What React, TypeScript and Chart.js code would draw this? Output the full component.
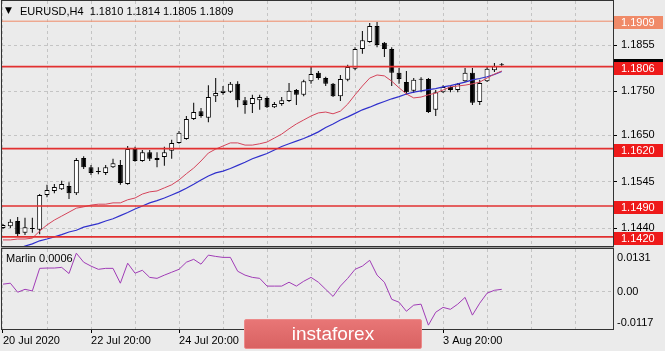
import React, { useEffect, useRef } from "react";
import { Chart, registerables } from "chart.js";

Chart.register(...registerables);

// ---------------- data ----------------
const symbol = "EURUSD";
const timeframe = "H4";

const openP = [
  1.1440, 1.1444, 1.1456, 1.1429, 1.1440, 1.1436, 1.1515, 1.1524, 1.1528, 1.1535,
  1.1519, 1.1599, 1.1578, 1.1569, 1.1565, 1.1578, 1.1583, 1.1540, 1.1619, 1.1592,
  1.1612, 1.1599, 1.1601, 1.1615, 1.1633, 1.1642, 1.1687, 1.1705, 1.1690, 1.1739,
  1.1746, 1.1749, 1.1767, 1.1730, 1.1721, 1.1730, 1.1735, 1.1714, 1.1721, 1.1728,
  1.1753, 1.1742, 1.1773, 1.1792, 1.1780, 1.1767, 1.1739, 1.1776, 1.1801, 1.1846,
  1.1862, 1.1898, 1.1860, 1.1846, 1.1792, 1.1771, 1.1751, 1.1778, 1.1778, 1.1708,
  1.1748, 1.1760, 1.1753, 1.1773, 1.1792, 1.1726, 1.1773, 1.1798, 1.1810,
];
const highP = [
  1.1449, 1.1460, 1.1465, 1.1463, 1.1463, 1.1517, 1.1538, 1.1540, 1.1547, 1.1544,
  1.1599, 1.1603, 1.1583, 1.1578, 1.1583, 1.1597, 1.1594, 1.1626, 1.1624, 1.1617,
  1.1617, 1.1612, 1.1624, 1.1640, 1.1660, 1.1694, 1.1724, 1.1712, 1.1764, 1.1780,
  1.1762, 1.1771, 1.1773, 1.1737, 1.1742, 1.1742, 1.1739, 1.1726, 1.1737, 1.1769,
  1.1755, 1.1776, 1.1805, 1.1796, 1.1783, 1.1769, 1.1787, 1.1810, 1.1850, 1.1887,
  1.1905, 1.1907, 1.1862, 1.1850, 1.1803, 1.1796, 1.1780, 1.1782, 1.1780, 1.1753,
  1.1764, 1.1762, 1.1769, 1.1803, 1.1803, 1.1776, 1.1805, 1.1814, 1.1814,
];
const lowP = [
  1.1438, 1.1440, 1.1422, 1.1424, 1.1429, 1.1426, 1.1510, 1.1519, 1.1526, 1.1506,
  1.1515, 1.1574, 1.1560, 1.1562, 1.1560, 1.1576, 1.1538, 1.1538, 1.1590, 1.1590,
  1.1592, 1.1578, 1.1581, 1.1597, 1.1631, 1.1640, 1.1685, 1.1690, 1.1680, 1.1726,
  1.1742, 1.1746, 1.1714, 1.1699, 1.1701, 1.1708, 1.1712, 1.1712, 1.1717, 1.1726,
  1.1719, 1.1739, 1.1767, 1.1776, 1.1762, 1.1737, 1.1728, 1.1773, 1.1798, 1.1835,
  1.1860, 1.1850, 1.1828, 1.1762, 1.1767, 1.1742, 1.1746, 1.1748, 1.1701, 1.1694,
  1.1746, 1.1748, 1.1748, 1.1771, 1.1719, 1.1719, 1.1771, 1.1794, 1.1805,
];
const closeP = [
  1.1447, 1.1454, 1.1426, 1.1442, 1.1438, 1.1515, 1.1526, 1.1533, 1.1540, 1.1519,
  1.1594, 1.1578, 1.1565, 1.1567, 1.1578, 1.1587, 1.1542, 1.1619, 1.1592, 1.1612,
  1.1597, 1.1594, 1.1612, 1.1633, 1.1656, 1.1687, 1.1703, 1.1694, 1.1737, 1.1746,
  1.1751, 1.1767, 1.1730, 1.1719, 1.1735, 1.1737, 1.1714, 1.1721, 1.1730, 1.1751,
  1.1742, 1.1773, 1.1789, 1.1780, 1.1767, 1.1739, 1.1778, 1.1805, 1.1846, 1.1866,
  1.1898, 1.1855, 1.1846, 1.1792, 1.1778, 1.1748, 1.1776, 1.1776, 1.1703, 1.1748,
  1.1760, 1.1753, 1.1767, 1.1792, 1.1724, 1.1769, 1.1801, 1.1807, 1.1809,
];
const maRed = [
  1.1413, 1.1413, 1.1415, 1.1415, 1.1417, 1.1433, 1.1447, 1.1458, 1.1467, 1.1476,
  1.1485, 1.1488, 1.1492, 1.1494, 1.1494, 1.1497, 1.1497, 1.1504, 1.1508, 1.1517,
  1.1522, 1.1524, 1.1531, 1.1538, 1.1549, 1.1563, 1.1576, 1.1592, 1.1610, 1.1619,
  1.1626, 1.1633, 1.1633, 1.1628, 1.1628, 1.1631, 1.1635, 1.1644, 1.1653, 1.1665,
  1.1676, 1.1685, 1.1694, 1.1701, 1.1703, 1.1699, 1.1705, 1.1721, 1.1742, 1.1762,
  1.1780, 1.1787, 1.1785, 1.1773, 1.1758, 1.1744, 1.1735, 1.1737, 1.1742, 1.1746,
  1.1753, 1.1760, 1.1762, 1.1764, 1.1767, 1.1771, 1.1780, 1.1789, 1.1796,
];
const maBlue = [
  1.1386, 1.1390, 1.1393, 1.1399, 1.1404, 1.1411, 1.1415, 1.1420, 1.1425, 1.1431,
  1.1435, 1.1442, 1.1446, 1.1450, 1.1456, 1.1461, 1.1468, 1.1475, 1.1483, 1.1490,
  1.1497, 1.1502, 1.1508, 1.1515, 1.1522, 1.1530, 1.1539, 1.1549, 1.1558, 1.1565,
  1.1569, 1.1575, 1.1582, 1.1589, 1.1597, 1.1603, 1.1609, 1.1617, 1.1625, 1.1631,
  1.1637, 1.1643, 1.1650, 1.1658, 1.1668, 1.1676, 1.1685, 1.1692, 1.1700, 1.1708,
  1.1714, 1.1721, 1.1727, 1.1733, 1.1738, 1.1744, 1.1748, 1.1751, 1.1754, 1.1756,
  1.1760, 1.1763, 1.1767, 1.1771, 1.1776, 1.1779, 1.1783, 1.1788, 1.1795,
];
const marlin = [
  0.0022, 0.0025, -0.0003, 0.0006, 0.0001, 0.0071, 0.0072, 0.0072, 0.0074, 0.0055,
  0.0118, 0.0090, 0.0078, 0.0068, 0.0071, 0.0071, 0.0025, 0.0087, 0.0056, 0.0065,
  0.0043, 0.0040, 0.0050, 0.0059, 0.0068, 0.0090, 0.0099, 0.0084, 0.0112, 0.0108,
  0.0105, 0.0105, 0.0062, 0.0050, 0.0043, 0.0040, 0.0016, 0.0016, 0.0016, 0.0028,
  0.0016, 0.0031, 0.0043, 0.0028, 0.0006, -0.0016, 0.0016, 0.0040, 0.0068, 0.0078,
  0.0096, 0.0050, 0.0028, -0.0025, -0.0034, -0.0062, -0.0043, -0.0040, -0.0105, -0.0065,
  -0.0050, -0.0056, -0.0040, -0.0019, -0.0074, -0.0037, -0.0006, 0.0003, 0.0006,
];

const levelValues = [1.1909, 1.1806, 1.1620, 1.1490, 1.1420];
const levelColors = ["#f08a68", "#e23030", "#e23030", "#e23030", "#e23030"];
const levelBoxColors = ["#f08a68", "#ee1a1a", "#ee1a1a", "#ee1a1a", "#ee1a1a"];
const priceTicks = [1.1440, 1.1545, 1.1650, 1.1750, 1.1855];
const subTickValues = [0.0131, 0.0, -0.0117];
const subTickTexts = ["0.0131", "0.00", "-0.0117"];
const gridIdx = [0, 6, 12, 18, 24, 30, 36, 42, 48, 54, 60, 66, 72, 78];
const xLabelIdx = [0, 12, 24, 36, 48, 60];
const xLabelText = ["20 Jul 2020", "22 Jul 20:00", "24 Jul 20:00", "28 Jul 20:00", "30 Jul 20:00", "3 Aug 20:00"];

// ---------------- view ----------------
const W = 665;
const MAIN_H = 247;
const SUB_H = 104;
const BG = "#ebebeb";
const FAMILY = "'Liberation Sans', Arial, sans-serif";
const X_MIN = -0.136;
const X_MAX = 83.17;
const MAIN_MIN = 1.13992;
const MAIN_MAX = 1.19548;
const SUB_MIN = -0.0117;
const SUB_MAX = 0.0131;
const GRID = "#c4c4c4";
const FRAME = "#333333";

export default function App() {
  const mainRef = useRef<HTMLCanvasElement | null>(null);
  const subRef = useRef<HTMLCanvasElement | null>(null);

  useEffect(() => {
    if (!mainRef.current || !subRef.current) return;
    const idx = openP.map((_, i) => i);
    const last = idx.length - 1;
    const bull = idx.map((i) => closeP[i] >= openP[i]);

    const fixWidth = (w: number) => (s: any) => {
      s.width = w;
      s.paddingTop = 0;
      s.paddingBottom = 0;
      s.paddingLeft = 0;
      s.paddingRight = 0;
    };
    const fixHeight = (h: number) => (s: any) => {
      s.height = h;
      s.paddingTop = 0;
      s.paddingBottom = 0;
      s.paddingLeft = 0;
      s.paddingRight = 0;
    };

    const mainPlugin = {
      id: "mainDecor",
      afterDraw(chart: any) {
        const ctx = chart.ctx;
        const ca = chart.chartArea;
        const ys = chart.scales.y;
        ctx.save();
        ctx.strokeStyle = FRAME;
        ctx.lineWidth = 1;
        ctx.strokeRect(ca.left - 0.5, ca.top - 0.5, ca.right - ca.left + 1, ca.bottom - ca.top + 1);
        ctx.fillStyle = "#000";
        ctx.textBaseline = "middle";
        ctx.textAlign = "left";
        ctx.font = `9px 'DejaVu Sans', sans-serif`;
        ctx.fillText("\u25BC", 5, 11);
        ctx.font = `11px ${FAMILY}`;
        const f = (v: number) => v.toFixed(4);
        ctx.fillText(
          `${symbol},${timeframe}  ${f(openP[last])} ${f(highP[last])} ${f(lowP[last])} ${f(closeP[last])}`,
          20,
          11.5
        );
        const boxX = ca.right + 1;
        const boxW = 49;
        const bidY = Math.round(ys.getPixelForValue(closeP[last]));
        ctx.fillStyle = "#000";
        ctx.fillRect(boxX, bidY - 6, boxW, 12);
        ctx.font = `11px ${FAMILY}`;
        levelValues.forEach((v, k) => {
          const y = Math.round(ys.getPixelForValue(v));
          ctx.fillStyle = levelBoxColors[k];
          ctx.fillRect(boxX, y - 5, boxW, 13);
          ctx.fillStyle = "#ffffff";
          ctx.fillText(v.toFixed(4), ca.right + 8, y + 1.5);
        });
        ctx.restore();
      },
    };

    const main = new Chart(mainRef.current, {
      type: "bar",
      data: {
        datasets: [
          ...levelValues.map((v, k) => ({
            type: "line" as const,
            data: [
              { x: X_MIN - 5, y: v },
              { x: X_MAX + 5, y: v },
            ],
            borderColor: levelColors[k],
            borderWidth: k === 0 ? 1 : 1.6,
            pointRadius: 0,
            order: 0,
          })),
          {
            type: "line" as const,
            data: idx.map((i) => ({ x: i, y: maRed[i] })),
            borderColor: "#d4445a",
            borderWidth: 1,
            pointRadius: 0,
            tension: 0,
            order: 1,
          },
          {
            type: "line" as const,
            data: idx.map((i) => ({ x: i, y: maBlue[i] })),
            borderColor: "#3030cc",
            borderWidth: 1.2,
            pointRadius: 0,
            tension: 0,
            order: 1,
          },
          {
            type: "bar" as const,
            data: idx.map((i) => ({ x: i, y: [openP[i], closeP[i]] })),
            backgroundColor: bull.map((b) => (b ? "#ffffff" : "#000000")),
            borderColor: "#000000",
            borderWidth: 1,
            borderSkipped: false,
            barThickness: 5,
            minBarLength: 1,
            grouped: false,
            inflateAmount: 0,
            order: 2,
          },
          {
            type: "bar" as const,
            data: idx.map((i) => ({ x: i, y: [lowP[i], highP[i]] })),
            backgroundColor: "#000000",
            borderWidth: 0,
            barThickness: 1,
            grouped: false,
            inflateAmount: 0,
            order: 3,
          },
        ] as any,
      },
      options: {
        animation: false,
        responsive: false,
        events: [],
        layout: { padding: { left: 2, top: 1, right: 0, bottom: 1 } },
        plugins: { legend: { display: false }, tooltip: { enabled: false } },
        scales: {
          x: {
            type: "linear",
            min: X_MIN,
            max: X_MAX,
            offset: false,
            afterBuildTicks: (s: any) => {
              s.ticks = gridIdx.map((v) => ({ value: v }));
            },
            afterFit: fixHeight(0),
            ticks: { display: false },
            grid: { color: GRID, drawTicks: false, offset: false },
            border: { display: false, dash: [3, 3] },
          },
          y: {
            type: "linear",
            position: "right",
            min: MAIN_MIN,
            max: MAIN_MAX,
            beginAtZero: false,
            afterBuildTicks: (s: any) => {
              s.ticks = priceTicks.map((v) => ({ value: v }));
            },
            afterFit: fixWidth(52),
            ticks: {
              color: "#000",
              font: { family: FAMILY, size: 11 },
              padding: 4,
              callback: (v: any) => Number(v).toFixed(4),
            },
            grid: { color: GRID, tickColor: "#000", tickLength: 4, tickBorderDash: [] },
            border: { display: false, dash: [3, 3] },
          },
        },
      } as any,
      plugins: [mainPlugin],
    });

    const subPlugin = {
      id: "subDecor",
      afterDraw(chart: any) {
        const ctx = chart.ctx;
        const ca = chart.chartArea;
        const ys = chart.scales.y;
        ctx.save();
        ctx.fillStyle = "#9a9a9a";
        ctx.fillRect(1, 0, ca.right, 1);
        ctx.strokeStyle = FRAME;
        ctx.lineWidth = 1;
        ctx.strokeRect(ca.left - 0.5, ca.top - 0.5, ca.right - ca.left + 1, ca.bottom - ca.top + 1);
        ctx.fillStyle = "#000";
        ctx.textBaseline = "middle";
        ctx.textAlign = "left";
        ctx.font = `11px ${FAMILY}`;
        ctx.fillText(`Marlin ${marlin[last].toFixed(4)}`, 6, 12);
        subTickValues.forEach((v, k) => {
          const p = ys.getPixelForValue(v);
          const y = Math.min(Math.max(p, ca.top + 8), ca.bottom - 7);
          ctx.fillText(subTickTexts[k], ca.right + 4, y + 0.5);
        });
        ctx.restore();
      },
    };

    const sub = new Chart(subRef.current, {
      type: "line",
      data: {
        datasets: [
          {
            data: idx.map((i) => ({ x: i, y: marlin[i] })),
            borderColor: "#a03cb6",
            borderWidth: 1,
            pointRadius: 0,
            tension: 0,
          },
        ],
      },
      options: {
        animation: false,
        responsive: false,
        events: [],
        layout: { padding: { left: 2, top: 2, right: 0, bottom: 0 } },
        plugins: { legend: { display: false }, tooltip: { enabled: false } },
        scales: {
          x: {
            type: "linear",
            min: X_MIN,
            max: X_MAX,
            offset: false,
            afterBuildTicks: (s: any) => {
              s.ticks = gridIdx.map((v) => ({ value: v }));
            },
            afterFit: fixHeight(SUB_H - 82),
            ticks: {
              autoSkip: false,
              maxRotation: 0,
              minRotation: 0,
              align: "start",
              padding: 1,
              color: "#000",
              font: { family: FAMILY, size: 11 },
              callback: (v: any) => {
                const k = xLabelIdx.indexOf(Number(v));
                return k >= 0 ? xLabelText[k] : "";
              },
            },
            grid: {
              color: GRID,
              offset: false,
              tickLength: 4,
              tickBorderDash: [],
              tickColor: (c: any) =>
                c.tick && xLabelIdx.indexOf(c.tick.value) >= 0 ? "#000" : "rgba(0,0,0,0)",
            },
            border: { display: false, dash: [3, 3] },
          },
          y: {
            type: "linear",
            position: "right",
            min: SUB_MIN,
            max: SUB_MAX,
            afterBuildTicks: (s: any) => {
              s.ticks = [{ value: 0 }];
            },
            afterFit: fixWidth(52),
            ticks: { display: false },
            grid: { color: GRID, drawTicks: false },
            border: { display: false, dash: [3, 3] },
          },
        },
      } as any,
      plugins: [subPlugin],
    });

    return () => {
      main.destroy();
      sub.destroy();
    };
  }, []);

  return (
    <div
      style={{
        position: "absolute",
        left: 0,
        top: 0,
        width: W,
        height: MAIN_H + SUB_H,
        background: BG,
        overflow: "hidden",
      }}
    >
      <canvas
        ref={mainRef}
        width={W}
        height={MAIN_H}
        style={{ position: "absolute", left: 0, top: 0, width: W, height: MAIN_H }}
      />
      <canvas
        ref={subRef}
        width={W}
        height={SUB_H}
        style={{ position: "absolute", left: 0, top: MAIN_H, width: W, height: SUB_H }}
      />
      <div
        style={{
          position: "absolute",
          left: 244,
          top: 319,
          width: 178,
          height: 30,
          boxSizing: "border-box",
          borderRadius: 2,
          border: "1px solid #ec8a8a",
          background: "linear-gradient(#e87676, #d96262)",
          color: "#ffffff",
          fontFamily: FAMILY,
          fontSize: 19,
          lineHeight: "28px",
          textAlign: "center",
        }}
      >
        instaforex
      </div>
    </div>
  );
}
